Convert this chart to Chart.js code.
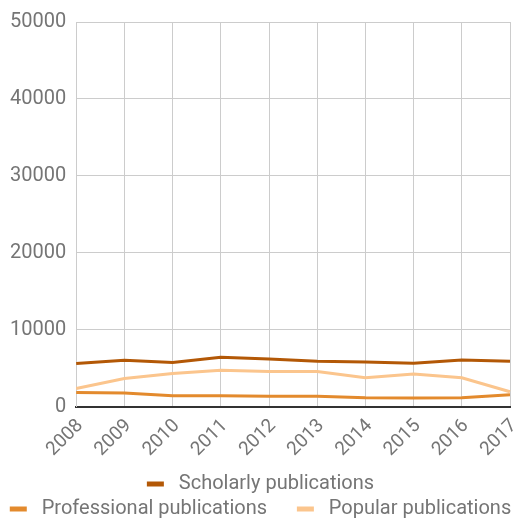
<!DOCTYPE html>
<html>
<head>
<meta charset="utf-8">
<script src="https://cdn.jsdelivr.net/npm/chart.js@4"></script>
<style>
  html, body { margin: 0; padding: 0; background: #fff; }
  #wrap { width: 521px; height: 522px; }
</style>
</head>
<body>
<div id="wrap"><canvas id="pubs-chart"></canvas></div>
<script>
var years = ["2008", "2009", "2010", "2011", "2012", "2013", "2014", "2015", "2016", "2017"];
var scholarly = [5600, 6050, 5750, 6420, 6200, 5900, 5800, 5650, 6080, 5900];
var professional = [1850, 1780, 1420, 1420, 1350, 1350, 1160, 1120, 1160, 1550];
var popular = [2370, 3660, 4300, 4740, 4560, 4560, 3750, 4260, 3750, 1940];

// legend rows: scholarly alone on the first row, the other two below it
var legendWrapWidth = 515;

var legendWrap = {
  id: "legendWrap",
  beforeLayout: function(chart) {
    var lg = chart.legend;
    if (lg && !lg._wrapPatched) {
      var fitRows = lg._fitRows;
      lg._fitRows = function() {
        var mw = this.maxWidth;
        this.maxWidth = Math.min(mw, legendWrapWidth);
        var h = fitRows.apply(this, arguments);
        this.maxWidth = mw;
        return h;
      };
      lg._wrapPatched = true;
    }
  }
};

document.addEventListener("DOMContentLoaded", function(event) {
  Chart.defaults.font.family = "Roboto";
  var ctx = document.getElementById("pubs-chart").getContext("2d");
  var myChart = new Chart(ctx, {
    type: "line",
    data: {
      labels: years,
      datasets: [
        {
          label: "Scholarly publications",
          data: scholarly,
          borderColor: "#b35806",
          backgroundColor: "#b35806",
          borderWidth: 3,
          pointRadius: 0,
          lineTension: 0,
          fill: false
        },
        {
          label: "Professional publications",
          data: professional,
          borderColor: "#e38a2d",
          backgroundColor: "#e38a2d",
          borderWidth: 3,
          pointRadius: 0,
          lineTension: 0,
          fill: false
        },
        {
          label: "Popular publications",
          data: popular,
          borderColor: "#fbc58d",
          backgroundColor: "#fbc58d",
          borderWidth: 3,
          pointRadius: 0,
          lineTension: 0,
          fill: false
        }
      ]
    },
    plugins: [legendWrap],
    options: {
      responsive: true,
      maintainAspectRatio: false,
      animation: false,
      layout: { padding: { left: 0, right: 0, top: 0, bottom: -7 } },
      plugins: {
        legend: {
          position: "bottom",
          labels: {
            color: "#757575",
            font: { size: 20 },
            boxWidth: 17,
            boxHeight: 5,
            padding: 5,
            generateLabels: function(chart) {
              var items = Chart.defaults.plugins.legend.labels.generateLabels(chart);
              items.forEach(function(it) {
                it.lineWidth = 0;
                it.text = " " + it.text;
                if (it.datasetIndex === 1) it.text += "     ";
              });
              return items;
            }
          }
        },
        tooltip: { enabled: false }
      },
      scales: {
        x: {
          grid: { color: "#cccccc", drawTicks: false },
          border: { color: "#333333", width: 2 },
          ticks: {
            color: "#757575",
            font: { size: 19 },
            maxRotation: 45,
            minRotation: 45,
            padding: 8,
            labelOffset: 4
          },
          afterFit: function(scale) {
            scale.paddingRight = 11;
          }
        },
        y: {
          min: 0,
          max: 50000,
          grid: { color: "#cccccc", drawTicks: false },
          border: { color: "#cccccc" },
          ticks: {
            stepSize: 10000,
            color: "#757575",
            font: { size: 20 },
            padding: 10,
            callback: function(value) { return String(value); }
          }
        }
      }
    }
  });
});
</script>
</body>
</html>
